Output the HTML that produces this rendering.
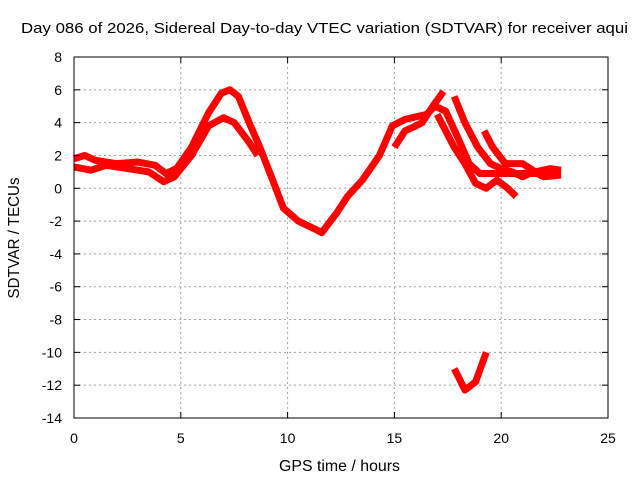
<!DOCTYPE html>
<html><head><meta charset="utf-8"><style>
body{margin:0;background:#fff}
svg{display:block;font-family:"Liberation Sans",sans-serif}
</style></head><body>
<svg id="chart" width="640" height="480" viewBox="0 0 640 480">
<rect width="640" height="480" fill="#fff"/>
<g id="grid"></g>
<g id="series"></g>
<rect x="74" y="57" width="534" height="361" fill="none" stroke="#000" stroke-width="1"/>
<g id="ticks"></g>
<text x="21" y="33" font-size="15" textLength="607" lengthAdjust="spacingAndGlyphs">Day 086 of 2026, Sidereal Day-to-day VTEC variation (SDTVAR) for receiver aqui</text>
<text x="279" y="471" font-size="15.5" textLength="121" lengthAdjust="spacingAndGlyphs">GPS time / hours</text>
<text transform="translate(19,238) rotate(-90)" font-size="15.5" text-anchor="middle" textLength="121" lengthAdjust="spacingAndGlyphs">SDTVAR / TECUs</text>
</svg>
<script>
const xTicks=[0,5,10,15,20,25];
const yTicks=[8,6,4,2,0,-2,-4,-6,-8,-10,-12,-14];
const s1=[[0,1.8],[0.5,2.0],[1,1.7],[2,1.5],[3,1.6],[3.8,1.4],[4.3,0.9],[4.8,1.2],[5.5,2.5],[6.3,4.6],[6.9,5.8],[7.3,6.0],[7.7,5.6],[8.2,4.0],[8.7,2.5],[9.3,0.5],[9.8,-1.2],[10.5,-2.0],[11.3,-2.5],[11.6,-2.7],[12.3,-1.5],[12.8,-0.5],[13.5,0.5],[14.3,2.0],[14.9,3.8],[15.5,4.2],[16.5,4.5],[16.9,5.0],[17.4,4.7],[18.0,3.0],[18.5,1.5],[19.0,0.9],[20,0.9],[21,0.9],[22,0.9],[22.8,0.9]];
const s2=[[0,1.3],[0.8,1.1],[1.5,1.4],[2.5,1.2],[3.5,1.0],[4.2,0.4],[4.7,0.7],[5.5,2.0],[6.3,3.8],[7,4.3],[7.5,4.0],[8.2,2.8],[8.6,2.0]];
const s3=[[15,2.5],[15.5,3.5],[16,3.8],[16.3,4.0],[16.8,5.0],[17.3,5.9]];
const s4=[[17.8,5.6],[18.3,4.0],[18.9,2.5],[19.5,1.5],[20,1.2],[20.5,1.0],[21,0.7],[21.5,1.0],[22,0.7],[22.8,0.8]];
const s5=[[17,4.5],[17.8,2.5],[18.3,1.5],[18.8,0.3],[19.3,0.0],[19.8,0.5],[20.3,0.0],[20.7,-0.5]];
const s6=[[19.2,3.5],[19.6,2.5],[20.2,1.5],[21,1.5],[21.6,1.0],[22.3,1.2],[22.8,1.1]];
const s7=[[17.8,-11],[18.0,-11.5],[18.3,-12.3],[18.8,-11.8],[19.3,-10.0]];
const seriesList=[s1,s2,s3,s4,s5,s6,s7];
const X=v=>74+v*(534/25);
const Y=v=>57+(8-v)*(361/22);
const NS="http://www.w3.org/2000/svg";
const grid=document.getElementById('grid'),ticks=document.getElementById('ticks'),ser=document.getElementById('series');
function mk(tag,at,parent){const e=document.createElementNS(NS,tag);for(const k in at)e.setAttribute(k,at[k]);parent.appendChild(e);return e;}
xTicks.forEach(t=>{
 const x=X(t);
 if(t>0&&t<25){const g=mk('line',{x1:x,x2:x,y1:57,y2:418,stroke:'#a0a0a0','stroke-dasharray':'2,3'},grid);
 
 }
 mk('line',{x1:x,x2:x,y1:418,y2:412,stroke:'#000'},ticks);
 mk('line',{x1:x,x2:x,y1:57,y2:63,stroke:'#000'},ticks);
 const l=mk('text',{x:x,y:443,'font-size':14,'text-anchor':'middle'},ticks);l.textContent=t;
 
 
});
yTicks.forEach(t=>{
 const y=Y(t);
 if(t<8&&t>-14){const g=mk('line',{x1:74,x2:608,y1:y,y2:y,stroke:'#a0a0a0','stroke-dasharray':'2,3'},grid);
 
 }
 mk('line',{x1:74,x2:80,y1:y,y2:y,stroke:'#000'},ticks);
 mk('line',{x1:608,x2:602,y1:y,y2:y,stroke:'#000'},ticks);
 const l=mk('text',{x:62,y:y+5,'font-size':14,'text-anchor':'end'},ticks);l.textContent=t;
 
 
});
seriesList.forEach((s,i)=>{
 const p=mk('polyline',{points:s.map(d=>X(d[0])+','+Y(d[1])).join(' '),fill:'none',stroke:'#ff0000','stroke-width':7,'stroke-linejoin':'round'},ser);
 
 
});
</script>
</body></html>
